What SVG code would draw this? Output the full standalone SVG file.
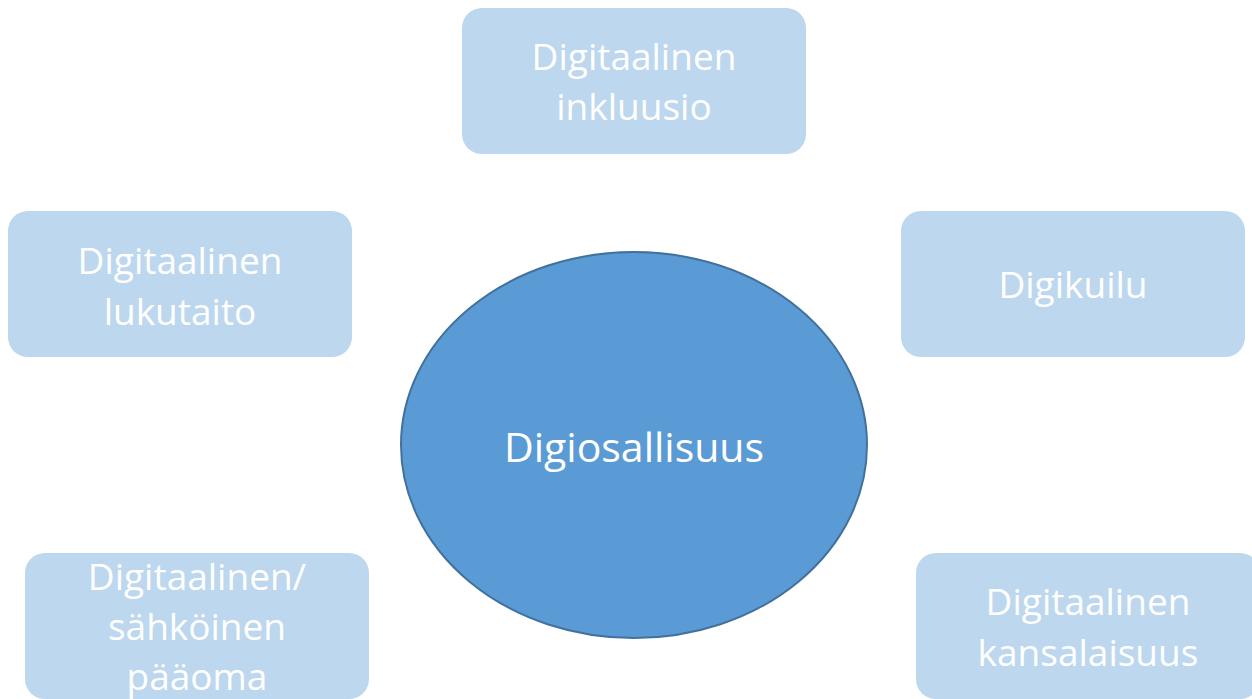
<svg xmlns="http://www.w3.org/2000/svg" width="1252" height="699" viewBox="0 0 1252 699">
<style>
.box{fill:#BDD7EE;}
.t{font-family:"Open Sans","Noto Sans",sans-serif;font-size:37px;fill:#FFFFFF;text-anchor:middle;}
</style>
<rect width="1252" height="699" fill="#FFFFFF"/>
<g id="connectors"></g>
<g id="n-inkluusio"><rect class="box" x="462" y="8" width="344" height="146" rx="20"/><text class="t" x="634" y="70">Digitaalinen</text><text class="t" x="634" y="120">inkluusio</text></g>
<g id="n-lukutaito"><rect class="box" x="8" y="211" width="344" height="146" rx="20"/><text class="t" x="180" y="274">Digitaalinen</text><text class="t" x="180" y="325">lukutaito</text></g>
<g id="n-digikuilu"><rect class="box" x="901" y="211" width="344" height="146" rx="20"/><text class="t" x="1073" y="298">Digikuilu</text></g>
<g id="n-center"><ellipse cx="634" cy="445" rx="233" ry="193" fill="#5B9BD5" stroke="#41719C" stroke-width="2"/><text class="t" x="634" y="462" style="font-size:41px">Digiosallisuus</text></g>
<g id="n-paaoma"><rect class="box" x="25" y="553" width="344" height="146" rx="20"/><text class="t" x="197" y="590">Digitaalinen/</text><text class="t" x="197" y="640">sähköinen</text><text class="t" x="197" y="690">pääoma</text></g>
<g id="n-kansalaisuus"><rect class="box" x="916" y="553" width="344" height="146" rx="20"/><text class="t" x="1088" y="615">Digitaalinen</text><text class="t" x="1088" y="666">kansalaisuus</text></g>
</svg>
